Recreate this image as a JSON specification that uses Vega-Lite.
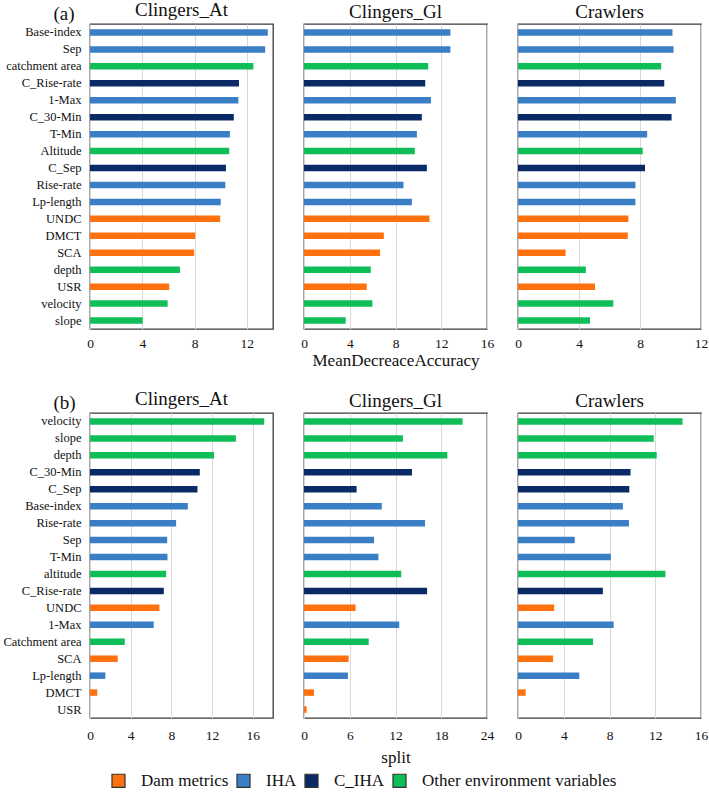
{
  "$schema": "https://vega.github.io/schema/vega-lite/v6.json",
  "background": "white",
  "padding": {"left": 2, "top": 0, "right": 0, "bottom": 0},
  "datasets": {
    "a": [
      {"panel": "Clingers_At", "variable": "Base-index", "group": "IHA", "value": 13.6},
      {"panel": "Clingers_At", "variable": "Sep", "group": "IHA", "value": 13.4},
      {"panel": "Clingers_At", "variable": "catchment area", "group": "Other environment variables", "value": 12.5},
      {"panel": "Clingers_At", "variable": "C_Rise-rate", "group": "C_IHA", "value": 11.4},
      {"panel": "Clingers_At", "variable": "1-Max", "group": "IHA", "value": 11.35},
      {"panel": "Clingers_At", "variable": "C_30-Min", "group": "C_IHA", "value": 11.0},
      {"panel": "Clingers_At", "variable": "T-Min", "group": "IHA", "value": 10.7},
      {"panel": "Clingers_At", "variable": "Altitude", "group": "Other environment variables", "value": 10.65},
      {"panel": "Clingers_At", "variable": "C_Sep", "group": "C_IHA", "value": 10.4},
      {"panel": "Clingers_At", "variable": "Rise-rate", "group": "IHA", "value": 10.35},
      {"panel": "Clingers_At", "variable": "Lp-length", "group": "IHA", "value": 10.0},
      {"panel": "Clingers_At", "variable": "UNDC", "group": "Dam metrics", "value": 9.96},
      {"panel": "Clingers_At", "variable": "DMCT", "group": "Dam metrics", "value": 8.05},
      {"panel": "Clingers_At", "variable": "SCA", "group": "Dam metrics", "value": 7.97},
      {"panel": "Clingers_At", "variable": "depth", "group": "Other environment variables", "value": 6.88},
      {"panel": "Clingers_At", "variable": "USR", "group": "Dam metrics", "value": 6.06},
      {"panel": "Clingers_At", "variable": "velocity", "group": "Other environment variables", "value": 5.94},
      {"panel": "Clingers_At", "variable": "slope", "group": "Other environment variables", "value": 4.03},
      {"panel": "Clingers_Gl", "variable": "Base-index", "group": "IHA", "value": 12.8},
      {"panel": "Clingers_Gl", "variable": "Sep", "group": "IHA", "value": 12.8},
      {"panel": "Clingers_Gl", "variable": "catchment area", "group": "Other environment variables", "value": 10.86},
      {"panel": "Clingers_Gl", "variable": "C_Rise-rate", "group": "C_IHA", "value": 10.6},
      {"panel": "Clingers_Gl", "variable": "1-Max", "group": "IHA", "value": 11.1},
      {"panel": "Clingers_Gl", "variable": "C_30-Min", "group": "C_IHA", "value": 10.3},
      {"panel": "Clingers_Gl", "variable": "T-Min", "group": "IHA", "value": 9.87},
      {"panel": "Clingers_Gl", "variable": "Altitude", "group": "Other environment variables", "value": 9.69},
      {"panel": "Clingers_Gl", "variable": "C_Sep", "group": "C_IHA", "value": 10.74},
      {"panel": "Clingers_Gl", "variable": "Rise-rate", "group": "IHA", "value": 8.7},
      {"panel": "Clingers_Gl", "variable": "Lp-length", "group": "IHA", "value": 9.43},
      {"panel": "Clingers_Gl", "variable": "UNDC", "group": "Dam metrics", "value": 10.97},
      {"panel": "Clingers_Gl", "variable": "DMCT", "group": "Dam metrics", "value": 6.98},
      {"panel": "Clingers_Gl", "variable": "SCA", "group": "Dam metrics", "value": 6.65},
      {"panel": "Clingers_Gl", "variable": "depth", "group": "Other environment variables", "value": 5.84},
      {"panel": "Clingers_Gl", "variable": "USR", "group": "Dam metrics", "value": 5.49},
      {"panel": "Clingers_Gl", "variable": "velocity", "group": "Other environment variables", "value": 5.98},
      {"panel": "Clingers_Gl", "variable": "slope", "group": "Other environment variables", "value": 3.65},
      {"panel": "Crawlers", "variable": "Base-index", "group": "IHA", "value": 10.13},
      {"panel": "Crawlers", "variable": "Sep", "group": "IHA", "value": 10.2},
      {"panel": "Crawlers", "variable": "catchment area", "group": "Other environment variables", "value": 9.39},
      {"panel": "Crawlers", "variable": "C_Rise-rate", "group": "C_IHA", "value": 9.59},
      {"panel": "Crawlers", "variable": "1-Max", "group": "IHA", "value": 10.35},
      {"panel": "Crawlers", "variable": "C_30-Min", "group": "C_IHA", "value": 10.07},
      {"panel": "Crawlers", "variable": "T-Min", "group": "IHA", "value": 8.47},
      {"panel": "Crawlers", "variable": "Altitude", "group": "Other environment variables", "value": 8.18},
      {"panel": "Crawlers", "variable": "C_Sep", "group": "C_IHA", "value": 8.33},
      {"panel": "Crawlers", "variable": "Rise-rate", "group": "IHA", "value": 7.7},
      {"panel": "Crawlers", "variable": "Lp-length", "group": "IHA", "value": 7.7},
      {"panel": "Crawlers", "variable": "UNDC", "group": "Dam metrics", "value": 7.24},
      {"panel": "Crawlers", "variable": "DMCT", "group": "Dam metrics", "value": 7.2},
      {"panel": "Crawlers", "variable": "SCA", "group": "Dam metrics", "value": 3.12},
      {"panel": "Crawlers", "variable": "depth", "group": "Other environment variables", "value": 4.45},
      {"panel": "Crawlers", "variable": "USR", "group": "Dam metrics", "value": 5.05},
      {"panel": "Crawlers", "variable": "velocity", "group": "Other environment variables", "value": 6.25},
      {"panel": "Crawlers", "variable": "slope", "group": "Other environment variables", "value": 4.72}
    ],
    "b": [
      {"panel": "Clingers_At", "variable": "velocity", "group": "Other environment variables", "value": 17.14},
      {"panel": "Clingers_At", "variable": "slope", "group": "Other environment variables", "value": 14.35},
      {"panel": "Clingers_At", "variable": "depth", "group": "Other environment variables", "value": 12.2},
      {"panel": "Clingers_At", "variable": "C_30-Min", "group": "C_IHA", "value": 10.8},
      {"panel": "Clingers_At", "variable": "C_Sep", "group": "C_IHA", "value": 10.57},
      {"panel": "Clingers_At", "variable": "Base-index", "group": "IHA", "value": 9.62},
      {"panel": "Clingers_At", "variable": "Rise-rate", "group": "IHA", "value": 8.47},
      {"panel": "Clingers_At", "variable": "Sep", "group": "IHA", "value": 7.59},
      {"panel": "Clingers_At", "variable": "T-Min", "group": "IHA", "value": 7.62},
      {"panel": "Clingers_At", "variable": "altitude", "group": "Other environment variables", "value": 7.49},
      {"panel": "Clingers_At", "variable": "C_Rise-rate", "group": "C_IHA", "value": 7.26},
      {"panel": "Clingers_At", "variable": "UNDC", "group": "Dam metrics", "value": 6.83},
      {"panel": "Clingers_At", "variable": "1-Max", "group": "IHA", "value": 6.27},
      {"panel": "Clingers_At", "variable": "Catchment area", "group": "Other environment variables", "value": 3.42},
      {"panel": "Clingers_At", "variable": "SCA", "group": "Dam metrics", "value": 2.73},
      {"panel": "Clingers_At", "variable": "Lp-length", "group": "IHA", "value": 1.51},
      {"panel": "Clingers_At", "variable": "DMCT", "group": "Dam metrics", "value": 0.72},
      {"panel": "Clingers_At", "variable": "USR", "group": "Dam metrics", "value": 0},
      {"panel": "Clingers_Gl", "variable": "velocity", "group": "Other environment variables", "value": 20.8},
      {"panel": "Clingers_Gl", "variable": "slope", "group": "Other environment variables", "value": 12.97},
      {"panel": "Clingers_Gl", "variable": "depth", "group": "Other environment variables", "value": 18.8},
      {"panel": "Clingers_Gl", "variable": "C_30-Min", "group": "C_IHA", "value": 14.16},
      {"panel": "Clingers_Gl", "variable": "C_Sep", "group": "C_IHA", "value": 6.9},
      {"panel": "Clingers_Gl", "variable": "Base-index", "group": "IHA", "value": 10.2},
      {"panel": "Clingers_Gl", "variable": "Rise-rate", "group": "IHA", "value": 15.87},
      {"panel": "Clingers_Gl", "variable": "Sep", "group": "IHA", "value": 9.19},
      {"panel": "Clingers_Gl", "variable": "T-Min", "group": "IHA", "value": 9.76},
      {"panel": "Clingers_Gl", "variable": "altitude", "group": "Other environment variables", "value": 12.75},
      {"panel": "Clingers_Gl", "variable": "C_Rise-rate", "group": "C_IHA", "value": 16.14},
      {"panel": "Clingers_Gl", "variable": "UNDC", "group": "Dam metrics", "value": 6.77},
      {"panel": "Clingers_Gl", "variable": "1-Max", "group": "IHA", "value": 12.49},
      {"panel": "Clingers_Gl", "variable": "Catchment area", "group": "Other environment variables", "value": 8.49},
      {"panel": "Clingers_Gl", "variable": "SCA", "group": "Dam metrics", "value": 5.85},
      {"panel": "Clingers_Gl", "variable": "Lp-length", "group": "IHA", "value": 5.76},
      {"panel": "Clingers_Gl", "variable": "DMCT", "group": "Dam metrics", "value": 1.32},
      {"panel": "Clingers_Gl", "variable": "USR", "group": "Dam metrics", "value": 0.35},
      {"panel": "Crawlers", "variable": "velocity", "group": "Other environment variables", "value": 14.39},
      {"panel": "Crawlers", "variable": "slope", "group": "Other environment variables", "value": 11.87},
      {"panel": "Crawlers", "variable": "depth", "group": "Other environment variables", "value": 12.13},
      {"panel": "Crawlers", "variable": "C_30-Min", "group": "C_IHA", "value": 9.84},
      {"panel": "Crawlers", "variable": "C_Sep", "group": "C_IHA", "value": 9.73},
      {"panel": "Crawlers", "variable": "Base-index", "group": "IHA", "value": 9.17},
      {"panel": "Crawlers", "variable": "Rise-rate", "group": "IHA", "value": 9.7},
      {"panel": "Crawlers", "variable": "Sep", "group": "IHA", "value": 4.96},
      {"panel": "Crawlers", "variable": "T-Min", "group": "IHA", "value": 8.12},
      {"panel": "Crawlers", "variable": "altitude", "group": "Other environment variables", "value": 12.89},
      {"panel": "Crawlers", "variable": "C_Rise-rate", "group": "C_IHA", "value": 7.42},
      {"panel": "Crawlers", "variable": "UNDC", "group": "Dam metrics", "value": 3.16},
      {"panel": "Crawlers", "variable": "1-Max", "group": "IHA", "value": 8.36},
      {"panel": "Crawlers", "variable": "Catchment area", "group": "Other environment variables", "value": 6.56},
      {"panel": "Crawlers", "variable": "SCA", "group": "Dam metrics", "value": 3.07},
      {"panel": "Crawlers", "variable": "Lp-length", "group": "IHA", "value": 5.36},
      {"panel": "Crawlers", "variable": "DMCT", "group": "Dam metrics", "value": 0.67},
      {"panel": "Crawlers", "variable": "USR", "group": "Dam metrics", "value": 0}
    ]
  },
  "columns": 3,
  "bounds": "flush",
  "spacing": {"row": 84, "column": 31},
  "concat": [
    {
      "data": {"name": "a"},
      "transform": [{"filter": "datum.panel === 'Clingers_At'"}],
      "title": {"text": "Clingers_At", "offset": -16},
      "width": 183, "height": 305,
      "mark": {"type": "bar", "size": 6.5},
      "encoding": {
        "y": {"field": "variable", "type": "nominal",
          "sort": ["Base-index","Sep","catchment area","C_Rise-rate","1-Max","C_30-Min","T-Min","Altitude","C_Sep","Rise-rate","Lp-length","UNDC","DMCT","SCA","depth","USR","velocity","slope"],
          "axis": {"title": "(a)", "titleAngle": 0, "titleX": -37, "titleY": -5, "titleAlign": "left", "titleBaseline": "alphabetic", "titleFontSize": 19}},
        "x": {"field": "value", "type": "quantitative", "scale": {"domain": [0, 14], "nice": false}, "axis": {"values": [0, 4, 8, 12], "title": null}},
        "color": {"field": "group", "type": "nominal",
          "scale": {"domain": ["Dam metrics", "IHA", "C_IHA", "Other environment variables"], "range": ["#FF700F", "#3A7EC6", "#0A2A66", "#10BE58"]},
          "legend": {"orient": "none", "legendX": 20, "legendY": 748, "direction": "horizontal", "title": null, "labelFontSize": 17, "labelLimit": 400, "labelFont": "Liberation Serif, Times New Roman, serif", "labelColor": "#111", "symbolType": "square", "symbolSize": 170, "symbolStrokeColor": "#333", "symbolStrokeWidth": 1.2, "symbolOpacity": 1, "columnPadding": 5, "labelOffset": 14}}
      }
    },
    {
      "data": {"name": "a"},
      "transform": [{"filter": "datum.panel === 'Clingers_Gl'"}],
      "title": "Clingers_Gl",
      "width": 183, "height": 305,
      "mark": {"type": "bar", "size": 6.5},
      "encoding": {
        "y": {"field": "variable", "type": "nominal",
          "sort": ["Base-index","Sep","catchment area","C_Rise-rate","1-Max","C_30-Min","T-Min","Altitude","C_Sep","Rise-rate","Lp-length","UNDC","DMCT","SCA","depth","USR","velocity","slope"],
          "axis": null},
        "x": {"field": "value", "type": "quantitative", "scale": {"domain": [0, 16], "nice": false}, "axis": {"values": [0, 4, 8, 12, 16], "title": "MeanDecreaceAccuracy"}},
        "color": {"field": "group", "type": "nominal",
          "scale": {"domain": ["Dam metrics", "IHA", "C_IHA", "Other environment variables"], "range": ["#FF700F", "#3A7EC6", "#0A2A66", "#10BE58"]}}
      }
    },
    {
      "data": {"name": "a"},
      "transform": [{"filter": "datum.panel === 'Crawlers'"}],
      "title": "Crawlers",
      "width": 183, "height": 305,
      "mark": {"type": "bar", "size": 6.5},
      "encoding": {
        "y": {"field": "variable", "type": "nominal",
          "sort": ["Base-index","Sep","catchment area","C_Rise-rate","1-Max","C_30-Min","T-Min","Altitude","C_Sep","Rise-rate","Lp-length","UNDC","DMCT","SCA","depth","USR","velocity","slope"],
          "axis": null},
        "x": {"field": "value", "type": "quantitative", "scale": {"domain": [0, 12], "nice": false}, "axis": {"values": [0, 4, 8, 12], "title": null}},
        "color": {"field": "group", "type": "nominal",
          "scale": {"domain": ["Dam metrics", "IHA", "C_IHA", "Other environment variables"], "range": ["#FF700F", "#3A7EC6", "#0A2A66", "#10BE58"]}}
      }
    },
    {
      "data": {"name": "b"},
      "transform": [{"filter": "datum.panel === 'Clingers_At'"}],
      "title": {"text": "Clingers_At", "offset": -16},
      "width": 183, "height": 305,
      "mark": {"type": "bar", "size": 6.5},
      "encoding": {
        "y": {"field": "variable", "type": "nominal",
          "sort": ["velocity","slope","depth","C_30-Min","C_Sep","Base-index","Rise-rate","Sep","T-Min","altitude","C_Rise-rate","UNDC","1-Max","Catchment area","SCA","Lp-length","DMCT","USR"],
          "axis": {"title": "(b)", "titleAngle": 0, "titleX": -37, "titleY": -5, "titleAlign": "left", "titleBaseline": "alphabetic", "titleFontSize": 19}},
        "x": {"field": "value", "type": "quantitative", "scale": {"domain": [0, 18], "nice": false}, "axis": {"values": [0, 4, 8, 12, 16], "title": null, "labelPadding": 10}},
        "color": {"field": "group", "type": "nominal",
          "scale": {"domain": ["Dam metrics", "IHA", "C_IHA", "Other environment variables"], "range": ["#FF700F", "#3A7EC6", "#0A2A66", "#10BE58"]}}
      }
    },
    {
      "data": {"name": "b"},
      "transform": [{"filter": "datum.panel === 'Clingers_Gl'"}],
      "title": "Clingers_Gl",
      "width": 183, "height": 305,
      "mark": {"type": "bar", "size": 6.5},
      "encoding": {
        "y": {"field": "variable", "type": "nominal",
          "sort": ["velocity","slope","depth","C_30-Min","C_Sep","Base-index","Rise-rate","Sep","T-Min","altitude","C_Rise-rate","UNDC","1-Max","Catchment area","SCA","Lp-length","DMCT","USR"],
          "axis": null},
        "x": {"field": "value", "type": "quantitative", "scale": {"domain": [0, 24], "nice": false}, "axis": {"values": [0, 6, 12, 18, 24], "title": "split", "labelPadding": 10, "titlePadding": 8}},
        "color": {"field": "group", "type": "nominal",
          "scale": {"domain": ["Dam metrics", "IHA", "C_IHA", "Other environment variables"], "range": ["#FF700F", "#3A7EC6", "#0A2A66", "#10BE58"]}}
      }
    },
    {
      "data": {"name": "b"},
      "transform": [{"filter": "datum.panel === 'Crawlers'"}],
      "title": "Crawlers",
      "width": 183, "height": 305,
      "mark": {"type": "bar", "size": 6.5},
      "encoding": {
        "y": {"field": "variable", "type": "nominal",
          "sort": ["velocity","slope","depth","C_30-Min","C_Sep","Base-index","Rise-rate","Sep","T-Min","altitude","C_Rise-rate","UNDC","1-Max","Catchment area","SCA","Lp-length","DMCT","USR"],
          "axis": null},
        "x": {"field": "value", "type": "quantitative", "scale": {"domain": [0, 16], "nice": false}, "axis": {"values": [0, 4, 8, 12, 16], "title": null, "labelPadding": 10}},
        "color": {"field": "group", "type": "nominal",
          "scale": {"domain": ["Dam metrics", "IHA", "C_IHA", "Other environment variables"], "range": ["#FF700F", "#3A7EC6", "#0A2A66", "#10BE58"]}}
      }
    }
  ],
  "config": {
    "font": "Liberation Serif, Times New Roman, serif",
    "view": {"stroke": "#3a3a3a", "strokeWidth": 1.3},
    "title": {"font": "Liberation Serif, Times New Roman, serif", "fontSize": 19, "fontWeight": "normal", "offset": 2, "color": "#111", "frame": "group"},
    "axis": {"labelFont": "Liberation Serif, Times New Roman, serif", "titleFont": "Liberation Serif, Times New Roman, serif", "labelColor": "#111", "titleColor": "#111", "ticks": false, "domain": false, "titleFontWeight": "normal"},
    "axisX": {"grid": true, "gridColor": "#d9d9d9", "labelFontSize": 13.5, "labelPadding": 7, "titleFontSize": 17, "titlePadding": 3, "labelFlush": false},
    "axisY": {"grid": false, "labelFontSize": 12.5, "labelPadding": 9},
    "legend": {"labelFont": "Liberation Serif, Times New Roman, serif"}
  }
}
